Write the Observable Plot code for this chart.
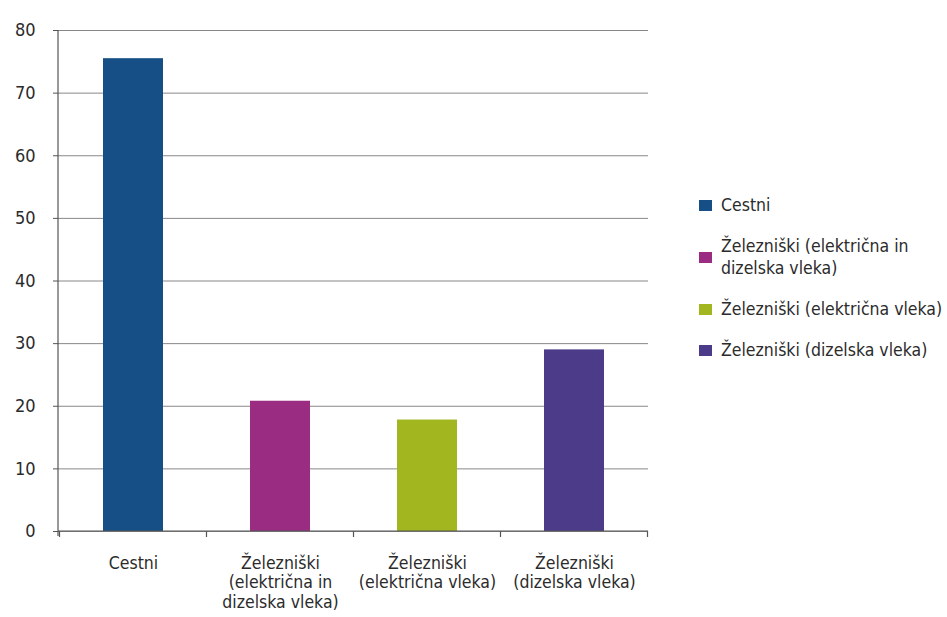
<!DOCTYPE html>
<html><head><meta charset="utf-8">
<script src="https://cdn.jsdelivr.net/npm/d3@7"></script>
<script src="https://cdn.jsdelivr.net/npm/@observablehq/plot@0.6"></script>
<style>
body{margin:0;background:#fff;}
#wrap{position:relative;width:947px;height:617px;font-family:"Liberation Sans Narrow","DejaVu Sans Condensed",sans-serif;font-stretch:condensed;color:#2b2b2b;}
#legend{position:absolute;left:699px;top:194px;font-size:17.5px;line-height:22px;}
.item{display:flex;align-items:center;margin-bottom:19px;}
.sw{width:13px;height:11px;margin-right:9px;flex:none;}
.lbl{white-space:pre;}
</style></head><body><div id="wrap"><div id="legend"></div></div>
<script>
const categories = ["Cestni", "Železniški (električna in dizelska vleka)", "Železniški (električna vleka)", "Železniški (dizelska vleka)"];
const values = [75.5, 20.8, 17.8, 29.0];
const colors = ["#164f86", "#9a2c82", "#a2b61f", "#4b3b89"];
const xTickLabels = ["Cestni", "Železniški\n(električna in\ndizelska vleka)", "Železniški\n(električna vleka)", "Železniški\n(dizelska vleka)"];
const legendLabels = ["Cestni", "Železniški (električna in\ndizelska vleka)", "Železniški (električna vleka)", "Železniški (dizelska vleka)"];
const yTicks = [0, 10, 20, 30, 40, 50, 60, 70, 80];

const data = categories.map((c, i) => ({cat: c, value: values[i]}));

function axesMark(index, scales, vals, dims) {
  const x = scales.x, y = scales.y;
  const bw = x.bandwidth ? x.bandwidth() : 0;
  const step = x(categories[1]) - x(categories[0]);
  const y0 = y(0);
  const left = dims.marginLeft, right = dims.width - dims.marginRight;
  const g = d3.create("svg:g").attr("stroke", "#555").attr("stroke-width", 1.2);
  g.append("line").attr("x1", left).attr("x2", left).attr("y1", dims.marginTop).attr("y2", y0 + 5);
  g.append("line").attr("x1", left).attr("x2", right).attr("y1", y0).attr("y2", y0);
  const bounds = categories.map(c => x(c) + bw / 2 - step / 2);
  bounds.push(x(categories[categories.length - 1]) + bw / 2 + step / 2);
  for (const b of bounds) {
    g.append("line").attr("x1", b).attr("x2", b).attr("y1", y0).attr("y2", y0 + 6);
  }
  return g.node();
}

const chart = Plot.plot({
  width: 947,
  height: 617,
  marginLeft: 58,
  marginRight: 299,
  marginTop: 30,
  marginBottom: 86,
  style: {fontFamily: '"Liberation Sans Narrow","DejaVu Sans Condensed",sans-serif', color: "#2b2b2b", background: "transparent"},
  x: {type: "band", domain: categories, paddingInner: 0.593, paddingOuter: 0.2965, label: null},
  y: {domain: [0, 80], label: null},
  color: {domain: categories, range: colors},
  marks: [
    Plot.gridY(yTicks, {stroke: "#888", strokeOpacity: 1, strokeWidth: 1}),
    Plot.axisY(yTicks, {tickSize: 5, tickPadding: 18, fontSize: 18, stroke: "#555", label: null}),
    Plot.axisX({tickSize: 0, tickPadding: 24, fontSize: 17.5, lineHeight: 1.1, label: null, tickFormat: d => xTickLabels[categories.indexOf(d)]}),
    Plot.barY(data, {x: "cat", y: "value", fill: "cat"}),
    axesMark
  ]
});
document.getElementById("wrap").prepend(chart);

const legend = d3.select("#legend");
categories.forEach((c, i) => {
  const item = legend.append("div").attr("class", "item");
  item.append("div").attr("class", "sw").style("background", colors[i]);
  item.append("div").attr("class", "lbl").text(legendLabels[i]);
});
</script>
</body></html>
